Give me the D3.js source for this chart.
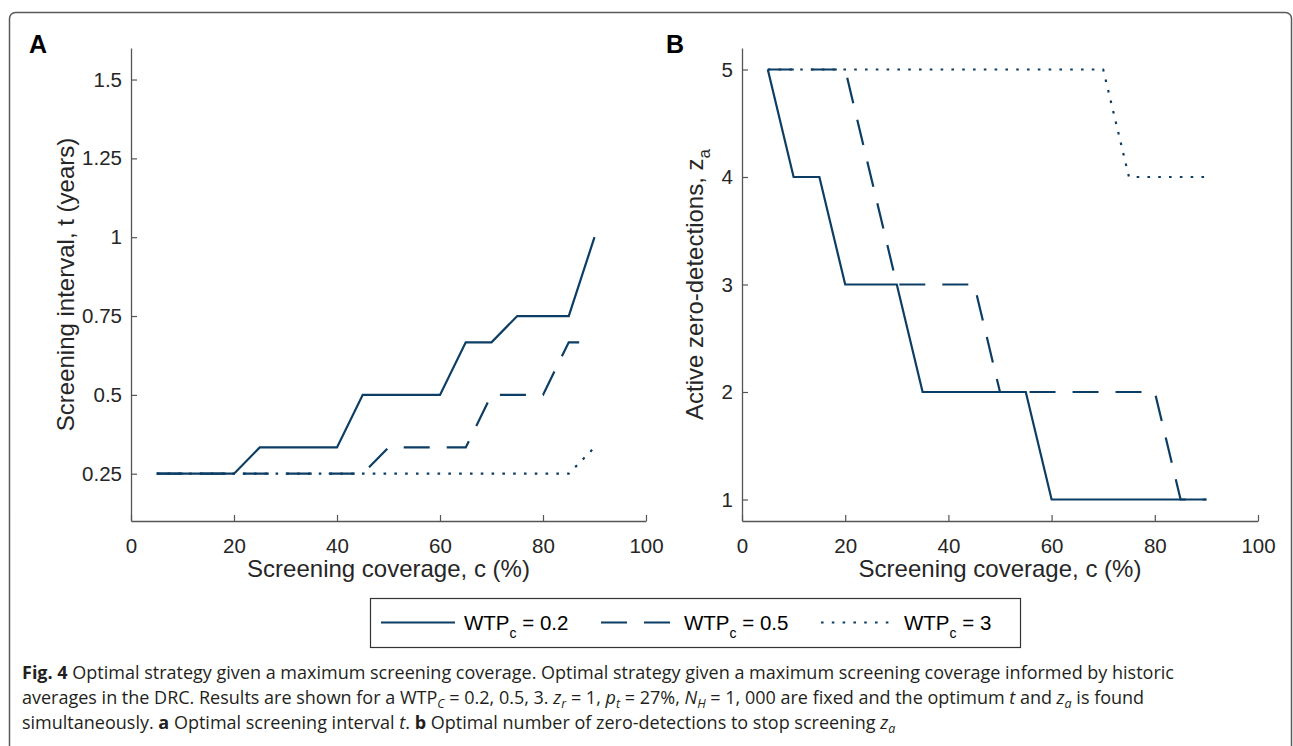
<!DOCTYPE html>
<html>
<head>
<meta charset="utf-8">
<script src="https://cdn.jsdelivr.net/npm/d3@7"></script>
<style>
  html, body { margin: 0; padding: 0; background: #fff; }
  svg { display: block; }
</style>
</head>
<body>
<svg id="fig" width="1293" height="746"></svg>
<script>
// Maximum screening coverage, c (%)
const coverage = [5, 10, 15, 20, 25, 30, 35, 40, 45, 50, 55, 60, 65, 70, 75, 80, 85, 90];

// Panel A: optimal screening interval t (years)
const intervalWtp02 = [0.25, 0.25, 0.25, 0.25, 0.3333, 0.3333, 0.3333, 0.3333, 0.5, 0.5, 0.5, 0.5, 0.6667, 0.6667, 0.75, 0.75, 0.75, 1];
const intervalWtp05 = [0.25, 0.25, 0.25, 0.25, 0.25, 0.25, 0.25, 0.25, 0.25, 0.3333, 0.3333, 0.3333, 0.3333, 0.5, 0.5, 0.5, 0.6667, 0.6667];
const intervalWtp3  = [0.25, 0.25, 0.25, 0.25, 0.25, 0.25, 0.25, 0.25, 0.25, 0.25, 0.25, 0.25, 0.25, 0.25, 0.25, 0.25, 0.25, 0.3333];

// Panel B: active zero-detections z_a
const zerosWtp02 = [5, 4, 4, 3, 3, 3, 2, 2, 2, 2, 2, 1, 1, 1, 1, 1, 1, 1];
const zerosWtp05 = [5, 5, 5, 5, 4, 3, 3, 3, 3, 2, 2, 2, 2, 2, 2, 2, 1, 1];
const zerosWtp3  = [5, 5, 5, 5, 5, 5, 5, 5, 5, 5, 5, 5, 5, 5, 4, 4, 4, 4];

// Axis ticks
const coverageTicks = [0, 20, 40, 60, 80, 100];
const intervalTicks = [0.25, 0.5, 0.75, 1, 1.25, 1.5];
const intervalTickLabels = ["0.25", "0.5", "0.75", "1", "1.25", "1.5"];
const zerosTicks = [1, 2, 3, 4, 5];

// Willingness-to-pay values shown in the legend
const wtpLabels = ["0.2", "0.5", "3"];

const LINE_COLOR = "#0c3d64";
const AXIS_COLOR = "#555555";
const TEXT_COLOR = "#262626";
const FONT = "'Liberation Sans', Arial, Helvetica, sans-serif";
const dashStyles = [null, "26 17", "2.6 8.2"];

const svg = d3.select("#fig");

// Outer figure frame
svg.append("rect")
  .attr("x", 9.5).attr("y", 12.5)
  .attr("width", 1282).attr("height", 760)
  .attr("rx", 6).attr("ry", 6)
  .attr("fill", "none")
  .attr("stroke", "#5a5a5a")
  .attr("stroke-width", 1.5);

const plotTop = 48, plotBottom = 521;

function drawPanel(opts) {
  const x = d3.scaleLinear().domain([0, 100]).range([opts.left, opts.right]);
  const y = d3.scaleLinear().domain(opts.yDomain).range([plotBottom, plotTop]);
  const g = svg.append("g");

  // x axis (ticks point inward)
  const gx = g.append("g")
    .attr("transform", `translate(0,${plotBottom})`)
    .call(d3.axisBottom(x).tickValues(coverageTicks).tickSizeInner(-6).tickSizeOuter(0).tickPadding(17));
  // y axis
  const gy = g.append("g")
    .attr("transform", `translate(${opts.left},0)`)
    .call(d3.axisLeft(y).tickValues(opts.yTicks).tickFormat((d, i) => opts.yTickLabels[i])
      .tickSizeInner(-6).tickSizeOuter(0).tickPadding(9));

  [gx, gy].forEach(a => {
    a.select(".domain").attr("stroke", AXIS_COLOR).attr("stroke-width", 1.3);
    a.selectAll(".tick line").attr("stroke", AXIS_COLOR).attr("stroke-width", 1.2);
    a.selectAll(".tick text")
      .attr("fill", TEXT_COLOR)
      .style("font-family", FONT)
      .style("font-size", "20.5px");
  });

  // Series lines
  const line = d3.line().x((d, i) => x(coverage[i])).y(d => y(d));
  opts.series.forEach((s, k) => {
    g.append("path")
      .datum(s)
      .attr("d", line)
      .attr("fill", "none")
      .attr("stroke", LINE_COLOR)
      .attr("stroke-width", 2.2)
      .attr("stroke-linejoin", "miter")
      .attr("stroke-dasharray", dashStyles[k]);
  });

  // x label
  g.append("text")
    .attr("x", (opts.left + opts.right) / 2)
    .attr("y", 577)
    .attr("text-anchor", "middle")
    .attr("fill", TEXT_COLOR)
    .style("font-family", FONT)
    .style("font-size", "24px")
    .text("Screening coverage, c (%)");

  // y label
  const yl = g.append("text")
    .attr("transform", `translate(${opts.yLabelX},${(plotTop + plotBottom) / 2}) rotate(-90)`)
    .attr("text-anchor", "middle")
    .attr("fill", TEXT_COLOR)
    .style("font-family", FONT)
    .style("font-size", "24px");
  opts.yLabel(yl);

  // panel letter
  svg.append("text")
    .attr("x", opts.letterX).attr("y", 53)
    .attr("fill", "#000")
    .style("font-family", FONT)
    .style("font-weight", "bold")
    .style("font-size", "25px")
    .text(opts.letter);
}

drawPanel({
  left: 131, right: 646,
  yDomain: [0.1, 1.6],
  yTicks: intervalTicks,
  yTickLabels: intervalTickLabels,
  series: [intervalWtp02, intervalWtp05, intervalWtp3],
  yLabelX: 74,
  yLabel: t => t.text("Screening interval, t (years)"),
  letter: "A", letterX: 29
});

drawPanel({
  left: 742, right: 1258,
  yDomain: [0.8, 5.2],
  yTicks: zerosTicks,
  yTickLabels: zerosTicks.map(String),
  series: [zerosWtp02, zerosWtp05, zerosWtp3],
  yLabelX: 703,
  yLabel: t => {
    t.append("tspan").text("Active zero-detections, z");
    t.append("tspan").attr("dy", 7).style("font-size", "17px").text("a");
  },
  letter: "B", letterX: 666
});

// Legend
const legend = svg.append("g");
legend.append("rect")
  .attr("x", 370.5).attr("y", 598.5)
  .attr("width", 650).attr("height", 49)
  .attr("fill", "#fff")
  .attr("stroke", "#333")
  .attr("stroke-width", 1.2);

const legendX = d3.scalePoint().domain(wtpLabels).range([381, 821]);
wtpLabels.forEach((lab, k) => {
  const x0 = legendX(lab);
  legend.append("line")
    .attr("x1", x0).attr("x2", x0 + 74)
    .attr("y1", 622.5).attr("y2", 622.5)
    .attr("stroke", LINE_COLOR)
    .attr("stroke-width", 2.2)
    .attr("stroke-dasharray", dashStyles[k]);
  const t = legend.append("text")
    .attr("x", x0 + 83).attr("y", 630)
    .attr("fill", "#000")
    .style("font-family", FONT)
    .style("font-size", "20.5px");
  t.append("tspan").text("WTP");
  t.append("tspan").attr("dy", 8).style("font-size", "14px").text("c");
  t.append("tspan").attr("dy", -8).text(" = " + lab);
});

// Caption
const CAP_FONT = "'Open Sans', 'Noto Sans', sans-serif";
const caption = svg.append("g")
  .attr("fill", "#231f20")
  .style("font-family", CAP_FONT)
  .style("font-size", "18px");

function captionLine(y, parts) {
  const t = caption.append("text").attr("x", 22).attr("y", y);
  parts.forEach(p => {
    const s = t.append("tspan").text(p.t);
    if (p.b) s.style("font-weight", "bold");
    if (p.i) s.style("font-style", "italic");
    if (p.sub) s.attr("dy", 4).style("font-size", "12.5px");
    if (p.up) s.attr("dy", -4);
  });
  return t;
}

captionLine(679, [
  { t: "Fig. 4", b: true },
  { t: " Optimal strategy given a maximum screening coverage. Optimal strategy given a maximum screening coverage informed by historic" }
]);
captionLine(704, [
  { t: "averages in the DRC. Results are shown for a WTP" },
  { t: "C", i: true, sub: true },
  { t: " = 0.2, 0.5, 3. ", up: true },
  { t: "z", i: true },
  { t: "r", i: true, sub: true },
  { t: " = 1, ", up: true },
  { t: "p", i: true },
  { t: "t", i: true, sub: true },
  { t: " = 27%, ", up: true },
  { t: "N", i: true },
  { t: "H", i: true, sub: true },
  { t: " = 1, 000 are fixed and the optimum ", up: true },
  { t: "t", i: true },
  { t: " and " },
  { t: "z", i: true },
  { t: "a", i: true, sub: true },
  { t: " is found", up: true }
]);
captionLine(729, [
  { t: "simultaneously. " },
  { t: "a", b: true },
  { t: " Optimal screening interval " },
  { t: "t", i: true },
  { t: ". " },
  { t: "b", b: true },
  { t: " Optimal number of zero-detections to stop screening " },
  { t: "z", i: true },
  { t: "a", i: true, sub: true }
]);
</script>
</body>
</html>
